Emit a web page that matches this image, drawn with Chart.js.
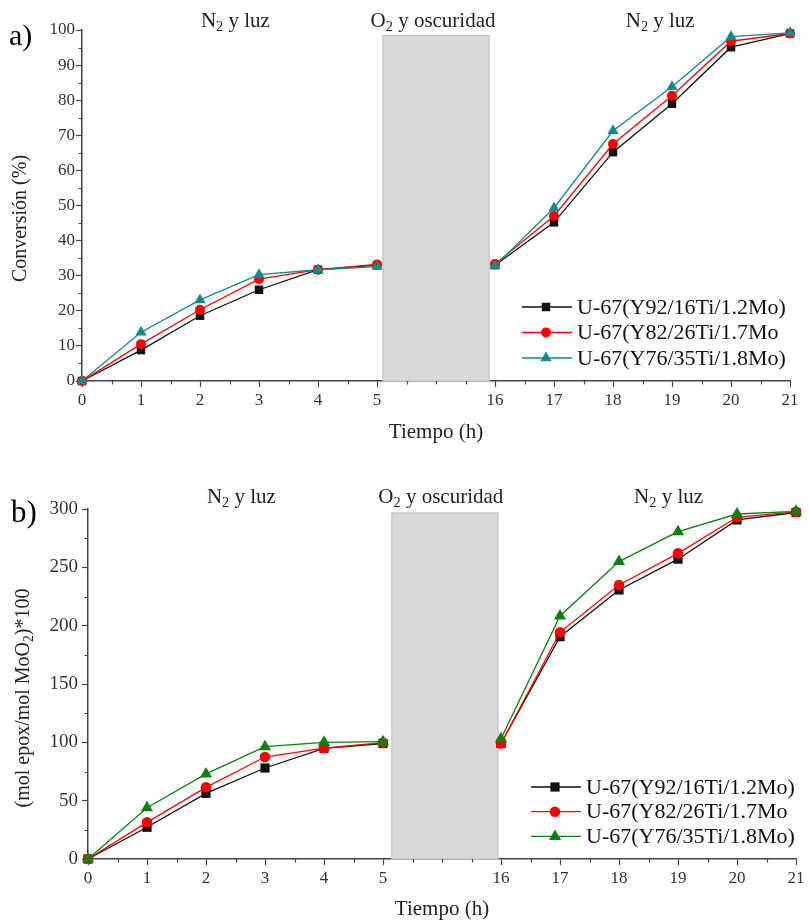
<!DOCTYPE html>
<html lang="es">
  <head>
    <meta charset="UTF-8" />
    <title>Conversión y rendimiento U-67</title>
    <script src="https://cdn.jsdelivr.net/npm/chart.js"></script>
    <style>
      body {
        margin: 0;
        background: #fff;
      }
      canvas {
        position: absolute;
        left: 0;
      }
      #panelA {
        top: 0;
      }
      #panelB {
        top: 460px;
      }
    </style>
  </head>
  <body>
    <canvas id="panelA" width="809" height="460"></canvas>
    <canvas id="panelB" width="809" height="462"></canvas>

    <script>
      // datos
      const horas = [0, 1, 2, 3, 4, 5, 16, 17, 18, 19, 20, 21];
      const nombres = [
        "U-67(Y92/16Ti/1.2Mo)",
        "U-67(Y82/26Ti/1.7Mo",
        "U-67(Y76/35Ti/1.8Mo)",
      ];

      const convY92 = [0, 8.8, 18.6, 26.0, 31.7, 33.0, 33.0, 45.2, 65.2, 79.0, 95.1, 99.0];
      const convY82 = [0, 10.5, 20.3, 29.0, 31.7, 33.2, 33.3, 47.0, 67.5, 81.3, 96.8, 99.0];
      const convY76 = [0, 13.9, 23.1, 30.3, 31.7, 32.6, 32.8, 49.3, 71.3, 83.8, 98.1, 99.2];

      const epoxY92 = [0, 27.2, 56.3, 78.0, 94.9, 99.0, 99.0, 190.6, 230.6, 257.0, 290.6, 297.0];
      const epoxY82 = [0, 31.4, 61.4, 87.4, 95.0, 99.7, 99.0, 194.3, 234.9, 262.0, 292.9, 297.5];
      const epoxY76 = [0, 44.0, 72.9, 96.3, 100.0, 100.6, 103.0, 208.3, 254.9, 280.6, 295.7, 298.0];

      // eje cortado: de 5 h salta a 16 h
      const pos = (h) => (h <= 5 ? h : h - 9);

      const SERIF = '"Liberation Serif", "Times New Roman", serif';
      const fuente = (s) => s + "px " + SERIF;

      function textoSub(ctx, partes, x, y, size, align) {
        let w = 0;
        partes.forEach(([t, sub]) => {
          ctx.font = fuente(sub ? size * 0.68 : size);
          w += ctx.measureText(t).width;
        });
        let cx = align === "center" ? x - w / 2 : x;
        ctx.textAlign = "left";
        ctx.textBaseline = "alphabetic";
        partes.forEach(([t, sub]) => {
          ctx.font = fuente(sub ? size * 0.68 : size);
          ctx.fillText(t, cx, sub ? y + size * 0.18 : y);
          cx += ctx.measureText(t).width;
        });
      }

      function marcador(ctx, estilo, r, x, y) {
        ctx.beginPath();
        if (estilo === "rect") {
          const s = r * Math.SQRT1_2;
          ctx.rect(x - s, y - s, 2 * s, 2 * s);
        } else if (estilo === "circle") {
          ctx.arc(x, y, r, 0, Math.PI * 2);
        } else {
          const b = r * Math.sqrt(3) / 2;
          ctx.moveTo(x, y - r);
          ctx.lineTo(x + b, y + r / 2);
          ctx.lineTo(x - b, y + r / 2);
          ctx.closePath();
        }
        ctx.fill();
      }

      const fondo = {
        id: "fondo",
        beforeDatasetsDraw(chart, args, o) {
          const { ctx, scales } = chart;
          const x0 = scales.x.getPixelForValue(o.banda[0]);
          const x1 = scales.x.getPixelForValue(o.banda[1]);
          const y0 = scales.y.getPixelForValue(0);
          const y1 = scales.y.getPixelForValue(o.tope);
          ctx.save();
          ctx.fillStyle = "#d9d9d9";
          ctx.fillRect(x0, y1, x1 - x0, y0 - y1);
          ctx.strokeStyle = "#c4c4c4";
          ctx.lineWidth = 1.2;
          ctx.strokeRect(x0, y1, x1 - x0, y0 - y1);
          ctx.restore();
        },
      };

      const rotulos = {
        id: "rotulos",
        afterDraw(chart, args, o) {
          const { ctx, chartArea: a, scales } = chart;
          ctx.save();

          // ticks menores
          ctx.strokeStyle = "#444";
          ctx.lineWidth = 1.2;
          ctx.beginPath();
          for (let v = 0.5; v < 12; v += 0.5) {
            if (Number.isInteger(v) && v !== 6) continue;
            const px = Math.round(scales.x.getPixelForValue(v)) + 0.5;
            ctx.moveTo(px, a.bottom);
            ctx.lineTo(px, a.bottom + 3.5);
          }
          for (let v = o.menor; v < scales.y.max; v += o.menor * 2) {
            const py = Math.round(scales.y.getPixelForValue(v)) + 0.5;
            ctx.moveTo(a.left, py);
            ctx.lineTo(a.left - 3.5, py);
          }
          ctx.stroke();

          // letra del panel
          ctx.fillStyle = "#000";
          ctx.font = fuente(o.letraSize);
          ctx.textAlign = "left";
          ctx.fillText(o.letra, o.letraPos[0], o.letraPos[1]);

          // rotulos de periodos
          ctx.fillStyle = "#222";
          o.notas.forEach((n) => {
            textoSub(ctx, n.partes, scales.x.getPixelForValue(n.x), a.top - o.notaSep, 21, "center");
          });

          // titulos de ejes
          textoSub(ctx, [["Tiempo (h)"]], (a.left + a.right) / 2, a.bottom + o.xTitSep, 21, "center");
          ctx.save();
          ctx.translate(o.yTitX, (a.top + a.bottom) / 2 + o.yTitDesp);
          ctx.rotate(-Math.PI / 2);
          textoSub(ctx, o.yTit, 0, 20 * 0.32, 20, "center");
          ctx.restore();

          // leyenda
          const L = o.leyenda;
          chart.data.datasets.forEach((ds, i) => {
            const yy = a.bottom - L.abajo + i * L.paso;
            const lx = a.right - L.desdeDer;
            ctx.strokeStyle = ds.borderColor;
            ctx.lineWidth = 1.3;
            ctx.beginPath();
            ctx.moveTo(lx, yy);
            ctx.lineTo(lx + 50, yy);
            ctx.stroke();
            ctx.fillStyle = ds.borderColor;
            marcador(ctx, ds.pointStyle, ds.pointRadius, lx + 24, yy);
            ctx.fillStyle = "#111";
            ctx.font = fuente(22);
            ctx.textAlign = "left";
            ctx.textBaseline = "middle";
            ctx.fillText(ds.label, lx + 55, yy + 1);
          });
          ctx.restore();
        },
      };

      function serie(valores, nombre, color, estilo, radio, orden) {
        return {
          label: nombre,
          data: horas.map((h, i) => ({ x: pos(h), y: valores[i] })),
          borderColor: color,
          backgroundColor: color,
          borderWidth: 1.3,
          pointStyle: estilo,
          pointRadius: radio,
          pointBorderWidth: 0,
          order: orden,
          clip: false,
          segment: {
            borderColor: (c) => (c.p0.parsed.x === 5 ? "rgba(0,0,0,0)" : undefined),
          },
        };
      }

      function crearPanel(id, datasets, p) {
        new Chart(document.getElementById(id), {
          type: "line",
          data: { datasets },
          plugins: [fondo, rotulos],
          options: {
            responsive: false,
            animation: false,
            layout: { padding: { left: 0, right: p.derecha, top: p.arriba, bottom: 0 } },
            plugins: {
              legend: { display: false },
              tooltip: { enabled: false },
              fondo: { banda: p.banda, tope: p.tope },
              rotulos: p.rotulos,
            },
            scales: {
              x: {
                type: "linear",
                min: 0,
                max: 12,
                afterBuildTicks: (ax) => {
                  ax.ticks = horas.map((h) => ({ value: pos(h) }));
                },
                afterFit: (ax) => {
                  ax.height = p.altoX;
                },
                ticks: {
                  autoSkip: false,
                  maxRotation: 0,
                  padding: 3,
                  color: "#333",
                  font: { family: SERIF, size: 17 },
                  callback: (v) => horas[horas.map(pos).indexOf(v)],
                },
                grid: { drawOnChartArea: false, tickLength: 6, tickColor: "#444", tickWidth: 1.2 },
                border: { color: "#444", width: 1.5 },
              },
              y: {
                min: 0,
                max: p.maxY,
                afterFit: (ax) => {
                  ax.width = p.anchoY;
                },
                ticks: {
                  stepSize: p.pasoY,
                  padding: p.padY,
                  color: "#333",
                  font: { family: SERIF, size: p.fuenteY },
                },
                grid: { drawOnChartArea: false, tickLength: 6, tickColor: "#444", tickWidth: 1.2 },
                border: { color: "#444", width: 1.5 },
              },
            },
          },
        });
      }

      crearPanel(
        "panelA",
        [
          serie(convY92, nombres[0], "#111111", "rect", 6, 2),
          serie(convY82, nombres[1], "#ff0000", "circle", 5, 1),
          serie(convY76, nombres[2], "#118a8a", "triangle", 6.5, 0),
        ],
        {
          derecha: 19,
          arriba: 30,
          altoX: 79,
          anchoY: 82,
          maxY: 100,
          pasoY: 10,
          padY: 1,
          fuenteY: 17,
          banda: [5.1, 6.9],
          tope: 98.4,
          rotulos: {
            menor: 5,
            letra: "a)",
            letraSize: 30,
            letraPos: [9, 45],
            notaSep: 3,
            notas: [
              { x: 2.6, partes: [["N"], ["2", true], [" y luz"]] },
              { x: 5.95, partes: [["O"], ["2", true], [" y oscuridad"]] },
              { x: 9.8, partes: [["N"], ["2", true], [" y luz"]] },
            ],
            xTitSep: 57,
            yTitX: 20,
            yTitDesp: 13,
            yTit: [["Conversión (%)"]],
            leyenda: { abajo: 74, paso: 25.5, desdeDer: 268 },
          },
        }
      );

      crearPanel(
        "panelB",
        [
          serie(epoxY92, nombres[0], "#111111", "rect", 6.5, 2),
          serie(epoxY82, nombres[1], "#ff0000", "circle", 5.3, 1),
          serie(epoxY76, nombres[2], "#0a820a", "triangle", 7, 0),
        ],
        {
          derecha: 13,
          arriba: 49,
          altoX: 63,
          anchoY: 88,
          maxY: 300,
          pasoY: 50,
          padY: 4,
          fuenteY: 19,
          banda: [5.15, 6.95],
          tope: 296.6,
          rotulos: {
            menor: 25,
            letra: "b)",
            letraSize: 31,
            letraPos: [11, 62],
            notaSep: 6,
            notas: [
              { x: 2.6, partes: [["N"], ["2", true], [" y luz"]] },
              { x: 5.98, partes: [["O"], ["2", true], [" y oscuridad"]] },
              { x: 9.84, partes: [["N"], ["2", true], [" y luz"]] },
            ],
            xTitSep: 56,
            yTitX: 23,
            yTitDesp: 14,
            yTit: [["(mol epox/mol MoO"], ["2", true], [")*100"]],
            leyenda: { abajo: 72, paso: 24.7, desdeDer: 265 },
          },
        }
      );
    </script>
  </body>
</html>
